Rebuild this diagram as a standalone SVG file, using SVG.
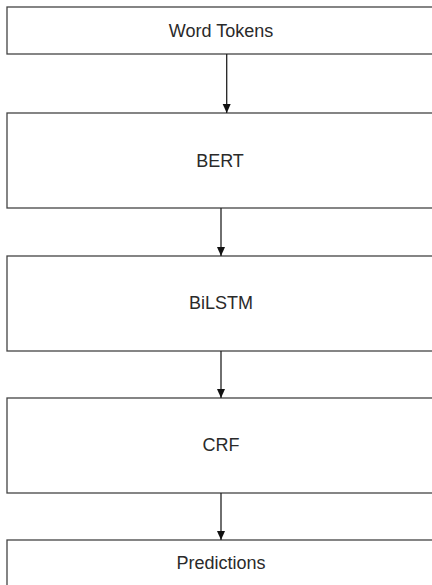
<svg xmlns="http://www.w3.org/2000/svg" width="432" height="585" viewBox="0 0 432 585">
<style>
.box{fill:#fff;stroke:#444;stroke-width:1.3}
.lbl{font-family:"Liberation Sans",Arial,sans-serif;font-size:18px;fill:#2a2a2a;text-anchor:middle}
.edge{stroke:#222;stroke-width:1.3;fill:none;marker-end:url(#ah)}
</style>
<defs>
<marker id="ah" markerUnits="userSpaceOnUse" markerWidth="10" markerHeight="10" viewBox="0 0 10 10" refX="9" refY="5" orient="auto">
<path d="M0,1 L9,5 L0,9 Z" fill="#111"/>
</marker>
</defs>
<rect width="432" height="585" fill="#fff"/>
<g id="word-tokens"><rect class="box" x="7" y="7" width="440" height="47"/><text class="lbl" x="221" y="36.5">Word Tokens</text></g>
<g id="bert"><rect class="box" x="7" y="113" width="440" height="95"/><text class="lbl" x="220" y="166.5">BERT</text></g>
<g id="bilstm"><rect class="box" x="7" y="256" width="440" height="95"/><text class="lbl" x="221" y="309">BiLSTM</text></g>
<g id="crf"><rect class="box" x="7" y="398" width="440" height="95"/><text class="lbl" x="221" y="451">CRF</text></g>
<g id="predictions"><rect class="box" x="7" y="540" width="440" height="60"/><text class="lbl" x="221" y="569">Predictions</text></g>
<g id="connectors">
<line class="edge" x1="226.7" y1="54" x2="226.7" y2="113"/>
<line class="edge" x1="221" y1="208" x2="221" y2="256"/>
<line class="edge" x1="221" y1="351" x2="221" y2="398"/>
<line class="edge" x1="221" y1="493" x2="221" y2="540"/>
</g>
</svg>
